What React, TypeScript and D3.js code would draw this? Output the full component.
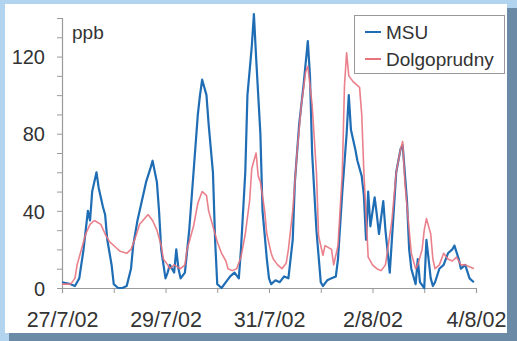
import React, { useRef, useEffect } from 'react';
import * as d3 from 'd3';

// hours since 27/7/02 00:00
const msuHours = [0, 4, 6, 8, 10, 12, 13, 14, 16, 17, 19, 20, 21, 23, 24, 26, 28, 30, 32, 33, 35, 37, 39, 41, 42, 44, 45, 46, 48, 49, 50, 52, 53, 54, 55, 57, 59, 61, 63, 64, 65, 67, 68, 70, 71, 72, 74, 76, 78, 80, 82, 83, 85, 86, 88, 89, 90, 92, 93, 95, 96, 97, 99, 101, 103, 105, 107, 108, 110, 112, 114, 115, 116, 118, 120, 121, 123, 125, 127, 128, 130, 132, 133, 134, 136, 137, 139, 140, 141, 142, 143, 145, 146, 147, 149, 150, 152, 153, 155, 157, 158, 160, 161, 162, 164, 165, 166, 168, 169, 171, 172, 173, 175, 177, 179, 181, 182, 184, 185, 187, 189, 191];
const msuValues = [3, 2, 1, 5, 20, 40, 35, 50, 60, 52, 42, 38, 25, 12, 2, 0, 0, 1, 10, 22, 35, 45, 55, 62, 66, 55, 40, 20, 5, 8, 12, 8, 20, 10, 5, 8, 30, 60, 90, 100, 108, 100, 85, 60, 25, 2, 0, 3, 6, 8, 5, 20, 60, 100, 125, 142, 120, 80, 40, 15, 5, 2, 4, 3, 6, 5, 25, 55, 85, 105, 128, 110, 70, 30, 3, 1, 4, 5, 6, 15, 50, 80, 100, 82, 72, 66, 58, 48, 25, 50, 32, 47, 38, 28, 45, 30, 8, 25, 60, 72, 74, 45, 20, 10, 2, 15, 3, 0, 25, 5, 1, 3, 10, 12, 18, 20, 22, 15, 10, 12, 5, 3];

const dolgHours = [0, 4, 6, 7, 9, 11, 13, 15, 18, 20, 22, 25, 27, 30, 32, 34, 36, 39, 40, 42, 44, 46, 47, 49, 50, 52, 55, 57, 58, 61, 63, 65, 67, 68, 70, 72, 74, 76, 77, 79, 81, 83, 85, 87, 88, 90, 91, 92, 94, 95, 97, 98, 100, 102, 104, 105, 107, 109, 111, 113, 114, 116, 118, 119, 121, 122, 125, 126, 128, 130, 131, 132, 133, 135, 138, 139, 140, 142, 144, 146, 148, 150, 153, 155, 157, 158, 159, 161, 162, 164, 165, 167, 168, 169, 171, 172, 173, 175, 177, 179, 181, 183, 185, 187, 189, 191];
const dolgValues = [2, 2, 5, 12, 20, 28, 33, 35, 33, 28, 24, 21, 19, 18, 20, 26, 33, 37, 38, 35, 30, 22, 15, 12, 10, 12, 10, 12, 20, 32, 44, 50, 48, 40, 32, 24, 18, 14, 10, 9, 10, 16, 28, 45, 62, 70, 58, 55, 40, 28, 18, 15, 12, 10, 13, 20, 40, 70, 95, 112, 115, 95, 60, 27, 17, 22, 20, 12, 22, 60, 105, 122, 110, 107, 104, 90, 60, 16, 12, 10, 9, 12, 35, 60, 72, 76, 55, 30, 18, 10, 12, 20, 30, 36, 28, 15, 10, 12, 18, 15, 14, 16, 12, 12, 11, 10];

const yTicks = [0, 40, 80, 120];
const xTickLabels = ['27/7/02', '29/7/02', '31/7/02', '2/8/02', '4/8/02'];
const seriesNames = ['MSU', 'Dolgoprudny'];
const seriesColors = ['#1f6db4', '#e8727e'];

function App() {
  const svgRef = useRef(null);

  useEffect(() => {
    const svg = d3.select(svgRef.current);
    svg.selectAll('*').remove();

    const width = 517;
    const height = 341;
    const margin = { top: 18, right: 41, bottom: 53, left: 62 };

    // background + panel
    svg.append('rect').attr('width', width).attr('height', height).attr('fill', '#b3d4ee');
    svg.append('rect').attr('x', 9).attr('y', 8).attr('width', width - 9).attr('height', height - 8).attr('fill', '#6a8aa6');
    svg.append('rect').attr('x', 5).attr('y', 4).attr('width', 502).attr('height', 329).attr('fill', '#fff');

    const x = d3.scaleLinear()
      .domain([0, 192])
      .range([margin.left, width - margin.right]);

    const y = d3.scaleLinear()
      .domain([0, 140])
      .range([height - margin.bottom, margin.top]);

    const axisColor = '#9a9a9a';
    const font = 'Liberation Sans, Arial, sans-serif';

    // y axis
    const yAxis = svg.append('g')
      .attr('transform', `translate(${margin.left}, 0)`)
      .call(d3.axisLeft(y).tickValues(d3.range(0, 141, 10)).tickSize(5).tickFormat(d => (yTicks.includes(d) ? d : '')));
    yAxis.select('.domain').attr('stroke', axisColor).attr('stroke-width', 1.2);
    yAxis.selectAll('line').attr('stroke', axisColor);
    yAxis.selectAll('text')
      .attr('font-family', font)
      .attr('font-size', 20)
      .attr('fill', '#333')
      .attr('x', -17)
      .attr('dy', '0.36em');

    // x axis
    const xAxis = svg.append('g')
      .attr('transform', `translate(0, ${height - margin.bottom})`)
      .call(d3.axisBottom(x).tickValues(d3.range(0, 193, 24)).tickSize(5).tickFormat((d, i) => (i % 2 === 0 ? xTickLabels[i / 2] : '')));
    xAxis.select('.domain').attr('stroke', axisColor).attr('stroke-width', 1.2);
    xAxis.selectAll('line').attr('stroke', axisColor);
    xAxis.selectAll('text')
      .attr('font-family', font)
      .attr('font-size', 21.5)
      .attr('fill', '#333')
      .attr('y', 24)
      .attr('dy', '0.71em');

    const line = d3.line()
      .x(d => x(d[0]))
      .y(d => y(d[1]));

    const msu = msuHours.map((h, i) => [h, msuValues[i]]);
    const dolg = dolgHours.map((h, i) => [h, dolgValues[i]]);

    svg.append('path')
      .datum(msu)
      .attr('fill', 'none')
      .attr('stroke', seriesColors[0])
      .attr('stroke-width', 2.2)
      .attr('stroke-linejoin', 'round')
      .attr('d', line);

    svg.append('path')
      .datum(dolg)
      .attr('fill', 'none')
      .attr('stroke', seriesColors[1])
      .attr('stroke-width', 1.6)
      .attr('stroke-opacity', 0.9)
      .attr('stroke-linejoin', 'round')
      .attr('d', line);

    svg.append('text')
      .attr('x', 72)
      .attr('y', 39)
      .attr('font-family', font)
      .attr('font-size', 19)
      .attr('fill', '#333')
      .text('ppb');

    // legend
    const legend = svg.append('g');
    legend.append('rect')
      .attr('x', 354.5)
      .attr('y', 15.5)
      .attr('width', 150)
      .attr('height', 58)
      .attr('fill', '#fff')
      .attr('stroke', '#999');
    seriesNames.forEach((name, i) => {
      const ly = 32 + i * 27;
      legend.append('line')
        .attr('x1', 365).attr('x2', 381)
        .attr('y1', ly).attr('y2', ly)
        .attr('stroke', seriesColors[i])
        .attr('stroke-width', 2);
      legend.append('text')
        .attr('x', 386)
        .attr('y', ly + 6.5)
        .attr('font-family', font)
        .attr('font-size', 19)
        .attr('fill', '#333')
        .text(name);
    });
  }, []);

  return (
    <svg ref={svgRef} width={517} height={341} style={{ position: 'absolute', left: 0, top: 0 }}></svg>
  );
}

export default App;
